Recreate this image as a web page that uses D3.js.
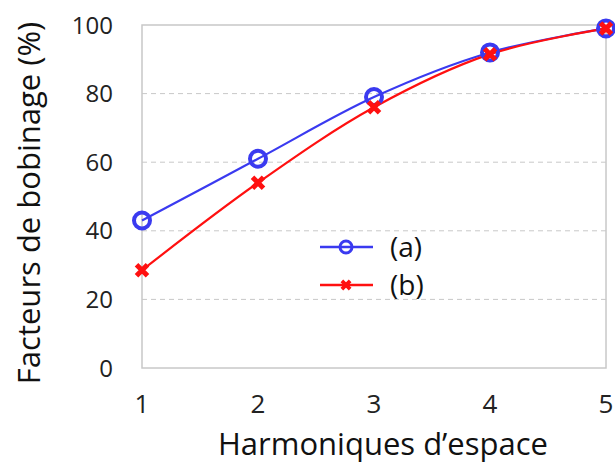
<!DOCTYPE html>
<html><head><meta charset="utf-8">
<script src="https://cdn.jsdelivr.net/npm/d3@7"></script>
<style>body{margin:0;background:#fff}</style>
</head><body>
<svg id="c" width="615" height="464"></svg>
<script>
const harmonics = [1, 2, 3, 4, 5];
const seriesA = [43, 61, 79, 92, 99];
const seriesB = [28.5, 54, 76, 91.5, 99];
const yTicks = [0, 20, 40, 60, 80, 100];
const seriesNames = ["(a)", "(b)"];

const svg = d3.select("#c");
const m = {l: 142, r: 606, t: 25, b: 368};
const x = d3.scaleLinear().domain([1, 5]).range([m.l, m.r]);
const y = d3.scaleLinear().domain([0, 100]).range([m.b, m.t]);
const font = "'Open Sans', 'Liberation Sans', sans-serif";

// gridlines
svg.append("g").selectAll("line").data(yTicks.filter(d => d > 0 && d < 100)).join("line")
  .attr("x1", m.l).attr("x2", m.r).attr("y1", d => y(d)).attr("y2", d => y(d))
  .attr("stroke", "#c8c8c8").attr("stroke-width", 1).attr("stroke-dasharray", "5,4");
// frame
svg.append("rect").attr("x", m.l).attr("y", m.t).attr("width", m.r - m.l).attr("height", m.b - m.t)
  .attr("fill", "none").attr("stroke", "#c8c8c8").attr("stroke-width", 1.5);

// y tick labels
svg.append("g").selectAll("text").data(yTicks).join("text")
  .attr("x", 113).attr("y", d => y(d)).attr("dy", "0.36em").attr("text-anchor", "end")
  .attr("font-family", font).attr("font-size", 24).attr("fill", "#222").text(d => d);
// x tick labels
svg.append("g").selectAll("text").data(harmonics).join("text")
  .attr("x", d => x(d)).attr("y", 413).attr("text-anchor", "middle")
  .attr("font-family", font).attr("font-size", 26).attr("fill", "#222").text(d => d);

// axis titles
svg.append("text").attr("x", 383).attr("y", 455).attr("text-anchor", "middle")
  .attr("font-family", font).attr("font-size", 31).attr("fill", "#111").text("Harmoniques d’espace");
svg.append("text").attr("transform", "translate(40,203) rotate(-90)").attr("text-anchor", "middle")
  .attr("font-family", font).attr("font-size", 31).attr("fill", "#111").text("Facteurs de bobinage (%)");

const line = d3.line().x((d, i) => x(harmonics[i])).y(d => y(d)).curve(d3.curveCatmullRom.alpha(0.5));
const blue = "#3a3af0", red = "#ff1010";

svg.append("path").datum(seriesA).attr("d", line).attr("fill", "none").attr("stroke", blue).attr("stroke-width", 2.2);
svg.append("path").datum(seriesB).attr("d", line).attr("fill", "none").attr("stroke", red).attr("stroke-width", 2.2);

function circleMark(g, cx, cy, k) {
  g.append("circle").attr("cx", cx).attr("cy", cy).attr("r", 8 * k).attr("fill", "none").attr("stroke", blue).attr("stroke-width", 4 * k);
}
function crossMark(g, cx, cy, k) {
  const s = 5.5 * k;
  g.append("path").attr("d", `M${cx - s},${cy - s}L${cx + s},${cy + s}M${cx - s},${cy + s}L${cx + s},${cy - s}`)
    .attr("stroke", red).attr("stroke-width", 5 * k).attr("fill", "none");
}
const gm = svg.append("g");
seriesA.forEach((v, i) => circleMark(gm, x(harmonics[i]), y(v), 1));
seriesB.forEach((v, i) => crossMark(gm, x(harmonics[i]), y(v), 1));

// legend
const lg = svg.append("g");
[[blue, circleMark], [red, crossMark]].forEach(([c, f], i) => {
  const ly = 247 + i * 38;
  lg.append("line").attr("x1", 320).attr("x2", 373).attr("y1", ly).attr("y2", ly).attr("stroke", c).attr("stroke-width", 2.5);
  f(lg, 346, ly, 0.75);
  lg.append("text").attr("x", 390).attr("y", ly).attr("dy", "0.36em").attr("font-family", font)
    .attr("font-size", 28).attr("fill", "#111").text(seriesNames[i]);
});
</script>
</body></html>
